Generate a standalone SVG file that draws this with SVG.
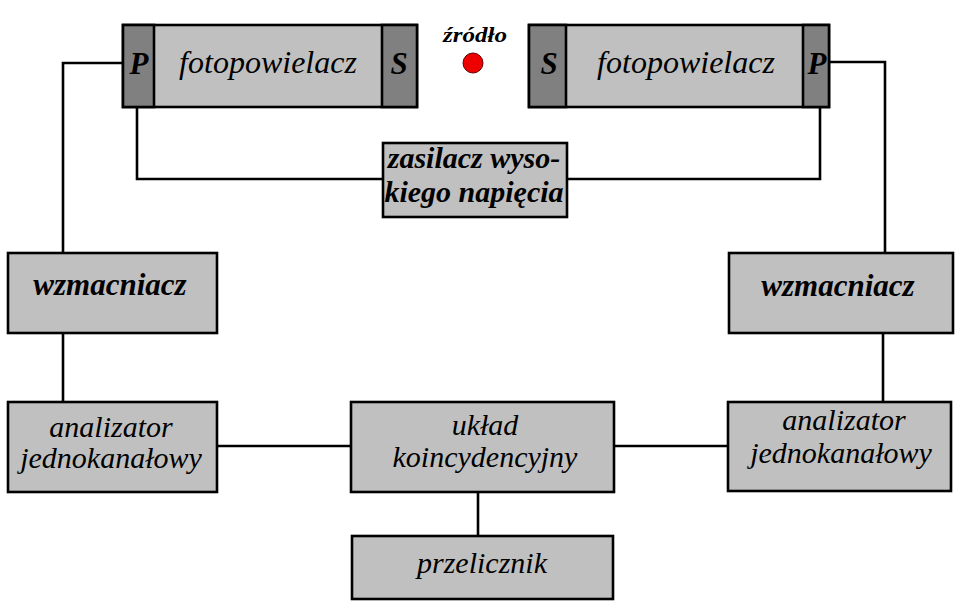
<svg xmlns="http://www.w3.org/2000/svg" width="962" height="615" viewBox="0 0 962 615">
<style>
.box{fill:#C0C0C0;stroke:#000;stroke-width:2.6}
.dark{fill:#808080;stroke:#000;stroke-width:2.6}
.ln{fill:none;stroke:#000;stroke-width:2.6}
.t{font-family:'Liberation Serif',serif;font-style:italic;font-size:30px;fill:#000;text-anchor:middle}
.b{font-family:'Liberation Serif',serif;font-style:italic;font-weight:bold;font-size:31px;fill:#000;text-anchor:middle}
.big{font-size:32px}
</style>
<rect width="962" height="615" fill="#fff"/>
<g id="connectors">
<polyline class="ln" points="123,63 63,63 63,253"/>
<polyline class="ln" points="137,107 137,179 383,179"/>
<polyline class="ln" points="829,62 885,62 885,253"/>
<polyline class="ln" points="820,107 820,179 567,179"/>
<line class="ln" x1="63" y1="333" x2="63" y2="402"/>
<line class="ln" x1="883" y1="333" x2="883" y2="402"/>
<line class="ln" x1="217" y1="446" x2="351" y2="446"/>
<line class="ln" x1="614" y1="446" x2="728" y2="446"/>
<line class="ln" x1="478" y1="492" x2="478" y2="536"/>
</g>
<g id="pmt-left">
<rect class="box" x="123" y="25" width="294" height="82"/>
<rect class="dark" x="123" y="25" width="31" height="82"/>
<rect class="dark" x="382" y="25" width="35" height="82"/>
<text class="b" x="139" y="74">P</text>
<text class="t big" x="268" y="73">fotopowielacz</text>
<text class="b" x="399" y="74">S</text>
</g>
<g id="source">
<text class="b" x="475" y="42" style="font-size:22px" textLength="64" lengthAdjust="spacingAndGlyphs">źródło</text>
<circle cx="473" cy="63" r="10" fill="#EE0000" stroke="#600" stroke-width="1"/>
</g>
<g id="pmt-right">
<rect class="box" x="529" y="25" width="300" height="82"/>
<rect class="dark" x="529" y="25" width="37" height="82"/>
<rect class="dark" x="803" y="25" width="26" height="82"/>
<text class="b" x="549" y="74">S</text>
<text class="t big" x="686" y="73">fotopowielacz</text>
<text class="b" x="817" y="74">P</text>
</g>
<g id="hv-supply">
<rect class="box" x="383" y="143" width="184" height="74"/>
<text class="b" x="474" y="168" style="font-size:30px">zasilacz wyso-</text>
<text class="b" x="474" y="202" style="font-size:30px">kiego napięcia</text>
</g>
<g id="amp-left">
<rect class="box" x="8" y="253" width="209" height="80"/>
<text class="b" x="110" y="295">wzmacniacz</text>
</g>
<g id="amp-right">
<rect class="box" x="729" y="253" width="224" height="80"/>
<text class="b" x="838" y="296">wzmacniacz</text>
</g>
<g id="sca-left">
<rect class="box" x="8" y="402" width="209" height="90"/>
<text class="t" x="111" y="437">analizator</text>
<text class="t" x="111" y="468">jednokanałowy</text>
</g>
<g id="coincidence">
<rect class="box" x="351" y="402" width="263" height="90"/>
<text class="t" x="485" y="435">układ</text>
<text class="t" x="485" y="467">koincydencyjny</text>
</g>
<g id="sca-right">
<rect class="box" x="728" y="402" width="223" height="89"/>
<text class="t" x="844" y="430">analizator</text>
<text class="t" x="841" y="463">jednokanałowy</text>
</g>
<g id="counter">
<rect class="box" x="352" y="536" width="261" height="63"/>
<text class="t" x="482" y="573">przelicznik</text>
</g>
</svg>
